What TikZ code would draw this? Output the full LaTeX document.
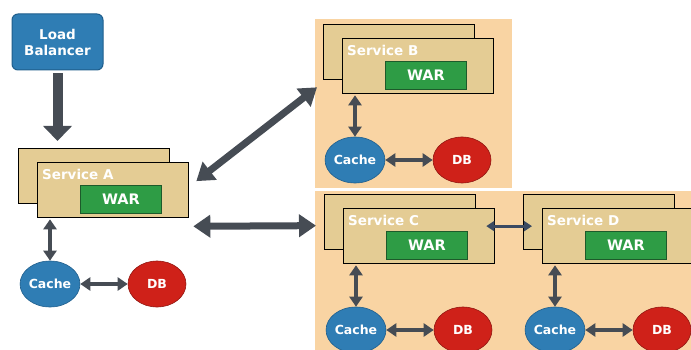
\documentclass[tikz,border=0pt]{standalone}
\usepackage{fontspec}
\setsansfont{DejaVu Sans}
\usepackage{tikz}
\usetikzlibrary{arrows.meta,calc,shapes.geometric}

\definecolor{lbblue}{HTML}{2F7DB4}
\definecolor{lbedge}{HTML}{1F5E8C}
\definecolor{dbred}{HTML}{CF2119}
\definecolor{warGreen}{HTML}{2E9C45}
\definecolor{warEdge}{HTML}{1D5A2A}
\definecolor{svcTan}{HTML}{E4CC94}
\definecolor{zonePeach}{HTML}{F9D4A3}
\definecolor{arrowGray}{HTML}{464C54}
\definecolor{linkNavy}{HTML}{3B4A62}

\tikzset{
	svcbox/.style={draw=black, line width=1.3pt, fill=svcTan,
			minimum width=151pt, minimum height=55pt, inner sep=0pt},
	svclabel/.style={text=white, font=\sffamily\bfseries\fontsize{13.5}{14}\selectfont, inner sep=0pt},
	warbox/.style={draw=warEdge, line width=0.8pt, fill=warGreen, text=white,
			font=\sffamily\bfseries\fontsize{14.5}{15}\selectfont,
			minimum width=81pt, minimum height=28pt, inner sep=0pt},
	cache/.style={ellipse, fill=lbblue, draw=lbedge, line width=0.6pt, text=white,
			font=\sffamily\bfseries\fontsize{12.5}{13}\selectfont,
			minimum width=58pt, minimum height=46pt, inner sep=0pt},
	db/.style={cache, fill=dbred, draw=dbred!70!black},
	bigarrow/.style={draw=arrowGray, line width=7pt,
			{Triangle[width=22pt,length=17pt]}-{Triangle[width=22pt,length=17pt]}},
	smallarrow/.style={draw=arrowGray, line width=4pt,
			{Triangle[width=13pt,length=10pt]}-{Triangle[width=13pt,length=10pt]}},
	linkarrow/.style={draw=linkNavy, line width=3pt,
			{Triangle[width=10pt,length=8pt]}-{Triangle[width=10pt,length=8pt]}}
}

\begin{document}
\begin{tikzpicture}[x=1pt, y=-1pt]
	\useasboundingbox (0,0) rectangle (691,350);

	% zones behind the services B, C and D
	\fill[zonePeach] (315,19) rectangle (512,188);
	\fill[zonePeach] (315,191) rectangle (691,350);

	% load balancer
	\node[draw=lbedge, line width=1pt, fill=lbblue, rounded corners=6pt, text=white,
		font=\sffamily\bfseries\fontsize{13.5}{16}\selectfont, align=center,
		minimum width=91pt, minimum height=56pt, inner sep=0pt] (lb) at (57.5,42) {Load\\Balancer};

	% the four services, each with its cache and db
	\foreach \s/\x/\y in {A/37/162, B/342/38, C/343/208, D/542/208} {
			\node[svcbox, anchor=north west] (back\s) at (\x-19,\y-14) {};
			\node[svcbox, anchor=north west] (svc\s) at (\x,\y) {};
			\node[svclabel, anchor=west] (lbl\s) at ([shift={(5,12)}]svc\s.north west) {Service \s};
			\node[warbox, anchor=north west] (war\s) at ([shift={(43,23)}]svc\s.north west) {WAR};
			\node[cache] (cache\s) at ([shift={(13,122)}]svc\s.north west) {Cache};
			\node[db] (db\s) at ([shift={(120,122)}]svc\s.north west) {DB};
			\draw[smallarrow, shorten <=1pt] (cache\s.north |- svc\s.south) -- (cache\s.north);
			\draw[smallarrow] (cache\s.east) -- (db\s.west);
		}

	% links between the parts
	\draw[draw=arrowGray, line width=10pt, -{Triangle[width=28pt,length=15pt]},
		shorten <=3pt, shorten >=7pt] (lb.south) -- (lb.south |- backA.north);
	\draw[bigarrow] ([shift={(7,-9)}]svcA.east) -- ([shift={(-6,7)}]backB.south west);
	\draw[bigarrow] ([shift={(4,8)}]svcA.south east) -- ([shift={(-8,3.5)}]backC.west);
	\draw[linkarrow] ($(svcC.east |- backD.west)+(-9,4)$) -- ($(backD.west)+(9,4)$);
\end{tikzpicture}
\end{document}
